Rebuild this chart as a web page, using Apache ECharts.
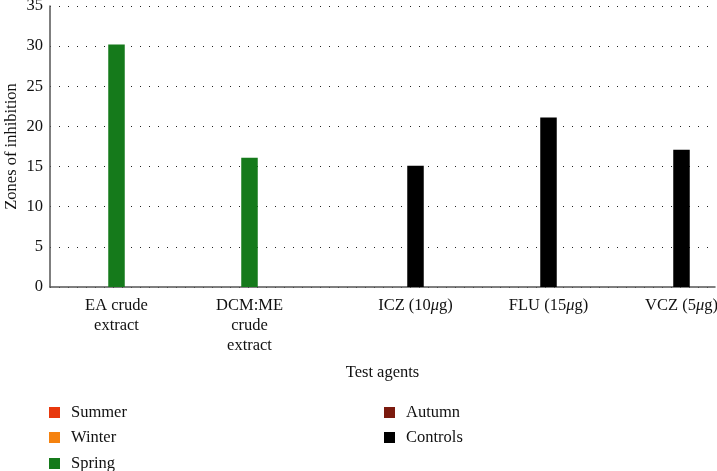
<!DOCTYPE html>
<html>
<head>
<meta charset="utf-8">
<script src="https://cdn.jsdelivr.net/npm/echarts@6/dist/echarts.min.js"></script>
<style>html,body{margin:0;padding:0;background:#fff}#c{width:717px;height:471px}</style>
</head>
<body>
<div id="c"></div>
<script>
const categories = ['EA crude\nextract', 'DCM:ME\ncrude\nextract', 'ICZ (10', 'FLU (15', 'VCZ (5'];
const unitSuffix = ['', '', 'g)', 'g)', 'g)'];
const seriesNames = ['Summer', 'Winter', 'Spring', 'Autumn', 'Controls'];
const seriesColors = ['#e8380d', '#f5820f', '#157a1b', '#7b1a0e', '#000000'];
const summer = [null, null, null, null, null];
const winter = [null, null, null, null, null];
const spring = [30.2, 16.1, null, null, null];
const autumn = [null, null, null, null, null];
const controls = [null, null, 15.1, 21.1, 17.1];
const yTicks = [0, 5, 10, 15, 20, 25, 30, 35];

const FONT = '"Liberation Serif", "DejaVu Serif", serif';
const chart = echarts.init(document.getElementById('c'));
const allData = [summer, winter, spring, autumn, controls];
const legendPos = [[49, 404], [49, 429], [49, 455], [384, 404], [384, 429]];

chart.setOption({
  animation: false,
  grid: { left: 50, right: 2, top: 6, bottom: 184, containLabel: false, outerBoundsMode: 'none' },
  legend: seriesNames.map(function (n, k) {
    return {
      orient: 'vertical', left: legendPos[k][0], top: legendPos[k][1],
      itemWidth: 11, itemHeight: 11, icon: 'rect', data: [n], padding: 0,
      textStyle: { fontFamily: FONT, fontSize: 16.5, color: '#111', padding: [0, 0, 0, 6] }
    };
  }),
  xAxis: {
    type: 'category',
    data: categories,
    name: 'Test agents',
    nameLocation: 'middle',
    nameGap: 77,
    nameMoveOverlap: false,
    nameTextStyle: { fontFamily: FONT, fontSize: 16.5, color: '#111' },
    axisLine: { lineStyle: { color: '#555', width: 1.5 } },
    axisTick: { show: false },
    axisLabel: {
      interval: 0,
      margin: 9,
      fontFamily: FONT, fontSize: 16.5, color: '#111', lineHeight: 20,
      formatter: function (v, i) {
        if (unitSuffix[i]) {
          return '{s|' + v + '}{i|μ}{n|' + unitSuffix[i] + '}';
        }
        return v;
      },
      rich: {
        s: { fontFamily: FONT, fontSize: 16.5, color: '#111', padding: [0, 0, 0, 66] },
        i: { fontFamily: FONT, fontSize: 16.5, color: '#111', fontStyle: 'italic' },
        n: { fontFamily: FONT, fontSize: 16.5, color: '#111' }
      }
    }
  },
  yAxis: {
    type: 'value',
    min: 0, max: 35, interval: 5,
    name: 'Zones of inhibition',
    nameLocation: 'middle',
    nameGap: 30,
    nameMoveOverlap: false,
    nameTextStyle: { fontFamily: FONT, fontSize: 16.5, color: '#111' },
    axisLine: { show: true, lineStyle: { color: '#555', width: 1.5 } },
    axisTick: { show: false },
    axisLabel: { margin: 7, fontFamily: FONT, fontSize: 16.5, color: '#111',
      formatter: function (v) { return yTicks.indexOf(v) >= 0 ? String(v) : ''; } },
    splitLine: { show: true, lineStyle: { color: '#222', width: 1, type: [1, 8] } }
  },
  series: seriesNames.map(function (n, k) {
    return {
      name: n, type: 'bar', data: allData[k],
      barWidth: 16.5, barGap: '0%',
      itemStyle: { color: seriesColors[k] }
    };
  })
});
</script>
</body>
</html>
